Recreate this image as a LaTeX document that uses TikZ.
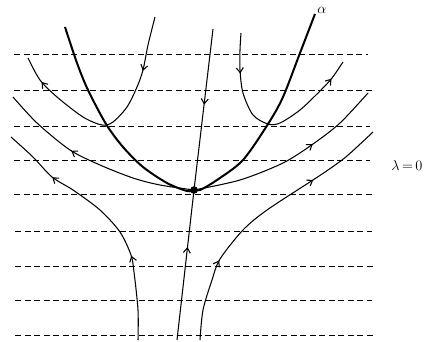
\documentclass[tikz,border=0pt]{standalone}
\usetikzlibrary{arrows.meta,decorations.markings}
\begin{document}
\begin{tikzpicture}[x=1pt,y=-1pt,
  level/.style={line width=0.75pt,dash pattern=on 6pt off 3.5pt},
  orbit/.style={line width=1.05pt},
  sep/.style={line width=2pt},
  arr/.style={postaction={decorate},decoration={markings,mark=at position #1 with {\arrow{Straight Barb[length=5pt,width=7pt]}}}},
  arrtwo/.style 2 args={postaction={decorate},decoration={markings,
     mark=at position #1 with {\arrow{Straight Barb[length=5pt,width=7pt]}},
     mark=at position #2 with {\arrow{Straight Barb[length=5pt,width=7pt]}}}},
  lbl/.style={font=\fontsize{14}{16}\selectfont,inner sep=0pt}]
\useasboundingbox (0,0) rectangle (429,341);
% levels
\foreach \yy/\xl/\xr in {54/14/368,90/14/372,126/14/370,160/14/370,194/14/373,231/15/372,266/15/373,300/15/372,335/15/373}
  \draw[level] (\xl,\yy) -- (\xr,\yy);
\coordinate (P) at (194,190);
\coordinate (top) at (213,29);
\coordinate (bot) at (177,340);
% separatrix alpha
\draw[sep] plot[smooth] coordinates {(65,27) (77,63) (88,90) (106,124) (123,147) (143,167) (167,183) (187,191) (194,190) (200,190) (217,180) (243,160) (268,124) (283,97) (300,53) (315,14)};
% vertical line
\draw[orbit,arr=0.47] (top) -- (P);
\draw[orbit,arr=0.62] (bot) -- (P);
% upper left
\draw[orbit,arrtwo={0.24}{0.88}] plot[smooth] coordinates {(155,17) (148,45) (143,70) (137,87) (127,107) (113,122) (102,125) (83,117) (57,97) (40,80) (28,58)};
% upper right
\draw[orbit,arrtwo={0.2}{0.9}] plot[smooth] coordinates {(241,33) (240,50) (240,70) (243,93) (253,115) (268,124) (280,123) (300,110) (320,91) (332,78) (343,62)};
% through P left
\draw[orbit,arr=0.62] plot[smooth] coordinates {(194,190) (160,185) (133,178) (100,165) (70,150) (37,123) (13,97)};
% through P right
\draw[orbit,arr=0.63] plot[smooth] coordinates {(194,190) (240,180) (283,163) (313,144) (340,123) (368,93)};
% lower left
\draw[orbit,arrtwo={0.33}{0.775}] plot[smooth] coordinates {(138,340) (138,310) (134,272) (131,255) (120,232) (100,210) (73,190) (52,177) (33,157) (11,137)};
% lower right
\draw[orbit,arrtwo={0.29}{0.73}] plot[smooth] coordinates {(200,340) (203,310) (212,280) (220,259) (243,230) (267,210) (313,180) (328,170) (347,156) (373,132)};
\fill (P) circle (3.8);
\node[lbl] (alpha) at (322,10) {$\alpha$};
\node[lbl] (lam) at (407,165) {$\lambda\,{=}\,0$};
\end{tikzpicture}
\end{document}
